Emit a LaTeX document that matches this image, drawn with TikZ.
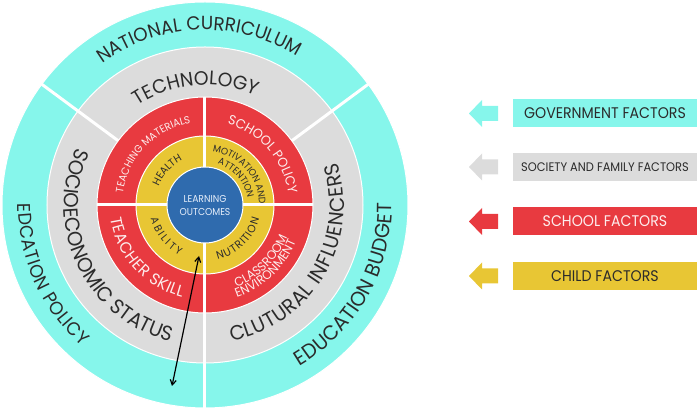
\documentclass[tikz,border=0pt]{standalone}
\usepackage{fontspec}
\setmainfont{Poppins}[FakeStretch=0.96]
\newfontfamily\legfont{Poppins}[FakeStretch=0.92]
\usetikzlibrary{decorations.text,arrows.meta}
\definecolor{teal1}{HTML}{86F6EB}
\definecolor{gray1}{HTML}{DCDCDC}
\definecolor{red1}{HTML}{E83A40}
\definecolor{yel1}{HTML}{E8C634}
\definecolor{blue1}{HTML}{2F6BAE}
\definecolor{ink}{HTML}{2B2B2B}
\definecolor{pale}{HTML}{FDEDED}
\definecolor{paleblue}{HTML}{E6EEFA}
\newcommand{\arctext}[6]{%
  \path[decorate,decoration={text along path,text align={fit to path},text color=#5,
    text={|\fontsize{#4}{#4}\selectfont|#6}}]
    (#2:#1pt) arc[start angle=#2,end angle=#3,radius=#1pt];}
\newcommand{\legarrow}[2]{%
  \fill[#1] (264,#2) -- (277,#2+13.5) -- (277,#2+7.5) -- (293,#2+7.5) -- (293,#2-7.5)
    -- (277,#2-7.5) -- (277,#2-13.5) -- cycle;}
\tikzset{
  ring/.style={circle,inner sep=0pt,draw=white,line width=1pt},
  sepline/.style={draw=white,line width=3pt},
  legbox/.style={minimum width=184pt,minimum height=28pt,inner sep=0pt,
    font=\legfont\fontsize{15.4}{15.4}\selectfont},
  dbl/.style={{Straight Barb[length=5pt,width=6pt]}-{Straight Barb[length=5pt,width=6pt]},line width=1.2pt,black}
}
\begin{document}
\begin{tikzpicture}[x=1pt,y=1pt]
\useasboundingbox (-205,-206) rectangle (494,205);
% rings
\node[ring,fill=teal1,minimum size=406pt] (govring) at (0,0) {};
\node[ring,fill=gray1,minimum size=316pt] (socring) at (0,0) {};
\node[ring,fill=red1,minimum size=216pt] (schring) at (0,0) {};
\node[ring,fill=yel1,minimum size=138pt] (chring) at (0,0) {};
% separators
\draw[sepline] (36.5:108pt) -- (36.5:205pt);
\draw[sepline] (143.5:108pt) -- (143.5:205pt);
\draw[sepline] (270:38pt) -- (270:205pt);
\draw[sepline] (90:38pt) -- (90:108pt);
\draw[sepline] (0:38pt) -- (0:108pt);
\draw[sepline] (180:38pt) -- (180:108pt);
\node[ring,fill=blue1,minimum size=76pt] (core) at (0,0) {};
\node[font=\legfont\fontsize{10}{13.5}\selectfont,text=paleblue,align=center] (lo) at (0,-0.5) {LEARNING\\OUTCOMES};
% curved labels
\arctext{175}{126}{60}{19}{ink}{NATIONAL CURRICULUM}
\arctext{120}{124}{67}{19.5}{ink}{TECHNOLOGY}
\arctext{187}{179.5}{229}{18.5}{ink}{EDCATION POLICY}
\arctext{187}{-59.6}{0.5}{20.5}{ink}{EDUCATION BUDGET}
\arctext{141}{156}{254}{20.5}{ink}{SOCIOECONOMIC STATUS}
\arctext{139}{-79}{18}{20.5}{ink}{CLUTURAL INFLUENCERS}
\arctext{83}{171.7}{100}{10.5}{pale}{TEACHING MATERIALS}
\arctext{84}{74.6}{8.9}{13.3}{pale}{SCHOOL POLICY}
\arctext{95}{188}{256}{16}{pale}{TEACHER SKILL}
\arctext{88}{-69}{-21}{12.5}{pale}{CLASSROOM}
\arctext{98}{-71}{-22}{12.5}{pale}{ENVIRONMENT}
\arctext{50}{158}{117}{10.5}{ink}{HEALTH}
\arctext{54}{82}{2}{9.5}{ink}{MOTIVATION AND}
\arctext{43}{73}{9}{9.5}{ink}{ATTENTION}
\arctext{56}{194}{243}{10.5}{ink}{ABILITY}
\arctext{56}{-77}{-14}{11}{ink}{NUTRITION}
% double arrow
\coordinate (arrTop) at (-6,-51);
\coordinate (arrBot) at (-33,-181);
\draw[dbl] (arrTop) -- (arrBot);
% legend
\legarrow{teal1}{91.5}
\legarrow{gray1}{38}
\legarrow{red1}{-16.5}
\legarrow{yel1}{-71}
\node[legbox,fill=teal1,text=ink] (gov) at (400,91.5) {GOVERNMENT FACTORS};
\node[legbox,fill=gray1,text=ink,font=\legfont\fontsize{12.4}{12.4}\selectfont] (soc) at (400,38) {SOCIETY AND FAMILY FACTORS};
\node[legbox,fill=red1,text=pale] (sch) at (400,-16.5) {SCHOOL FACTORS};
\node[legbox,fill=yel1,text=ink] (chi) at (400,-71) {CHILD FACTORS};
\end{tikzpicture}
\end{document}
